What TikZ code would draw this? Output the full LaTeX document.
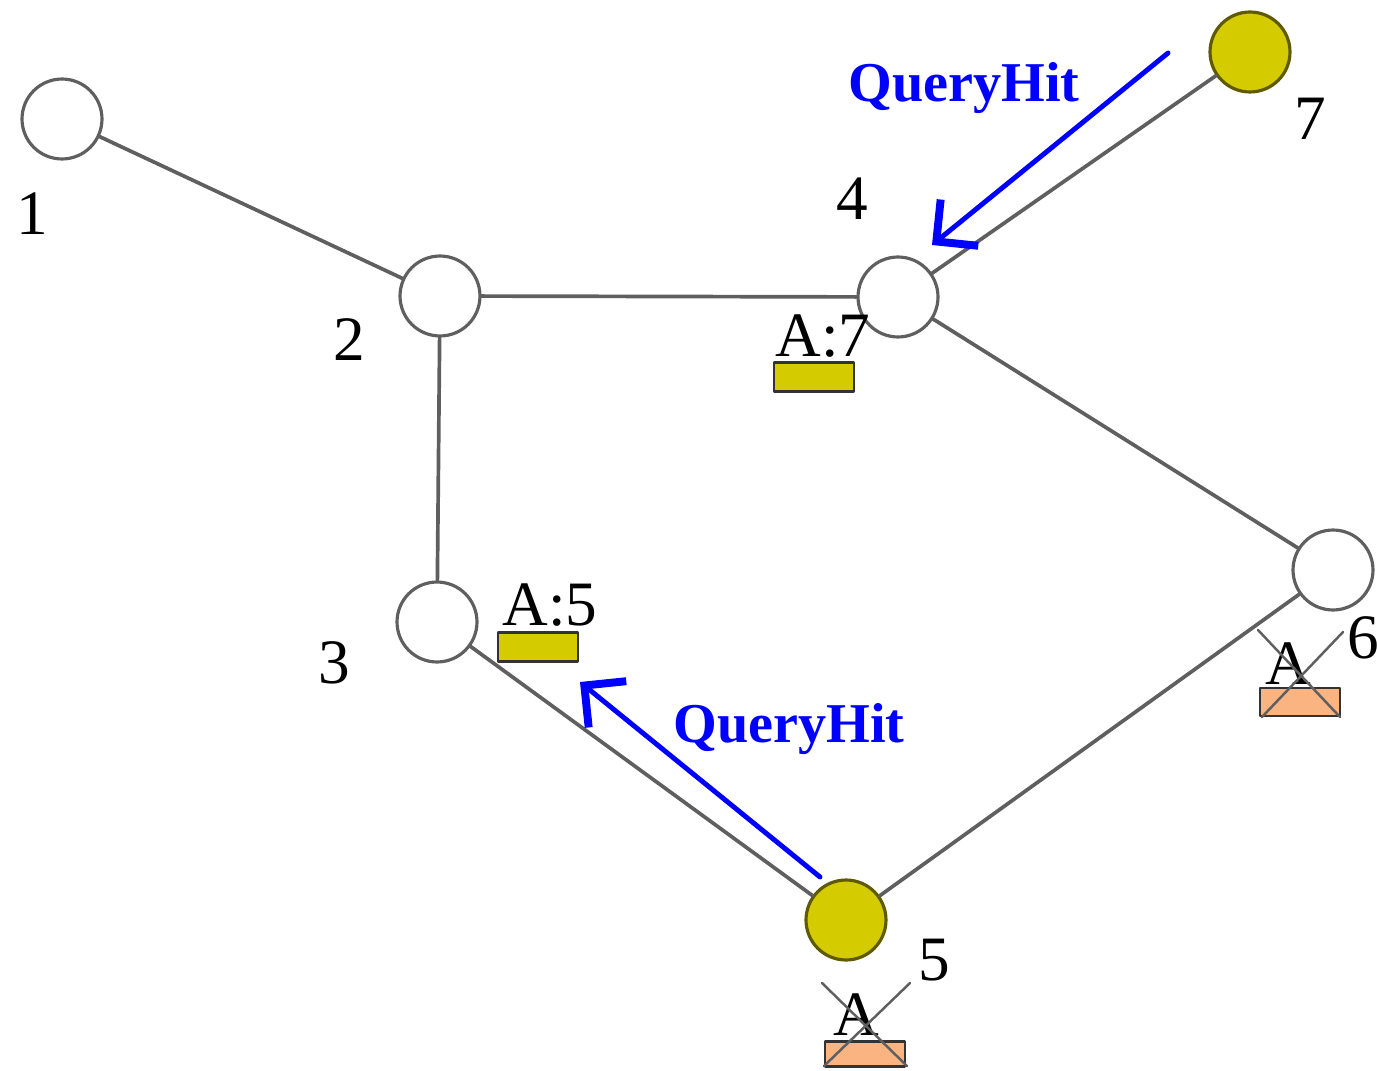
\documentclass[tikz,border=0pt]{standalone}
\usepackage{fontspec}
\setmainfont{Liberation Serif}
\usetikzlibrary{arrows.meta}
\definecolor{vang}{RGB}{212,204,0}
\definecolor{vienvang}{RGB}{95,90,0}
\definecolor{cam}{RGB}{250,180,130}
\definecolor{xam}{RGB}{95,95,95}
\begin{document}
\begin{tikzpicture}[x=0.02cm,y=-0.02cm,line join=round,line cap=round,
		>={Straight Barb[angle=90:24pt,line width=4.5pt]},
		peer/.style={circle,draw=xam,line width=1.8pt,fill=white,minimum size=1.6cm,inner sep=0pt},
		hit/.style={peer,fill=vang,draw=vienvang},
		so/.style={font=\fontsize{36}{40}\selectfont,inner sep=0pt,anchor=base},
		hop/.style={draw=black!80,line width=1.5pt,minimum width=1.6cm,minimum height=0.58cm,inner sep=0pt},
		canh/.style={draw=xam,line width=2.1pt},
		tin/.style={font=\fontsize{32}{36}\selectfont\bfseries,text=blue,inner sep=0pt,anchor=base west}]
	\useasboundingbox (0,0) rectangle (1377,1071);
	%Vẽ các nút
	\node[peer] (n1) at (62,119) {};
	\node[peer] (n2) at (440,296) {};
	\node[peer] (n3) at (437,622) {};
	\node[peer] (n4) at (898,297) {};
	\node[hit] (n5) at (846,920) {};
	\node[peer] (n6) at (1333,570) {};
	\node[hit] (n7) at (1250,52) {};
	%Vẽ các cạnh
	\draw[canh] (n1)--(n2);
	\draw[canh] (n2)--(n4);
	\draw[canh] (n2)--(n3);
	\draw[canh] (n3)--(n5);
	\draw[canh] (n5)--(n6);
	\draw[canh] (n4)--(n6);
	\draw[canh] (n4)--(n7);
	%Số hiệu các nút
	\node[so] (s1) at (32,235) {1};
	\node[so] (s2) at (349,360) {2};
	\node[so] (s3) at (334,683) {3};
	\node[so] (s4) at (852,220) {4};
	\node[so] (s5) at (934,980) {5};
	\node[so] (s6) at (1363,658) {6};
	\node[so] (s7) at (1310,140) {7};
	%Bộ nhớ đệm
	\node[so,anchor=base west] (a4) at (775,357) {A:7};
	\node[hop,fill=vang] (h4) at (814,377) {};
	\node[so,anchor=base west] (a3) at (502,625) {A:5};
	\node[hop,fill=vang] (h3) at (538,647) {};
	\node[so] (a6) at (1288,684) {A};
	\node[hop,fill=cam,minimum height=0.56cm] (h6) at (1300,702) {};
	\draw[xam,line width=1.4pt] (1258,630)--(1340,717) (1343,632)--(1262,717);
	\node[so] (a5) at (856,1035) {A};
	\node[hop,fill=cam,minimum height=0.5cm] (h5) at (865,1054) {};
	\draw[xam,line width=1.4pt] (822,983)--(907,1066) (910,983)--(824,1066);
	%Vẽ các mũi tên QueryHit
	\coordinate (q7) at (1168,53);
	\coordinate (q4) at (932,245);
	\draw[->,blue,line width=2.8pt] (q7)--(q4);
	\node[tin] (t7) at (848,102) {QueryHit};
	\coordinate (q5) at (820,877);
	\coordinate (q3) at (580,682);
	\draw[->,blue,line width=2.8pt] (q5)--(q3);
	\node[tin] (t5) at (673,742) {QueryHit};
\end{tikzpicture}
\end{document}
